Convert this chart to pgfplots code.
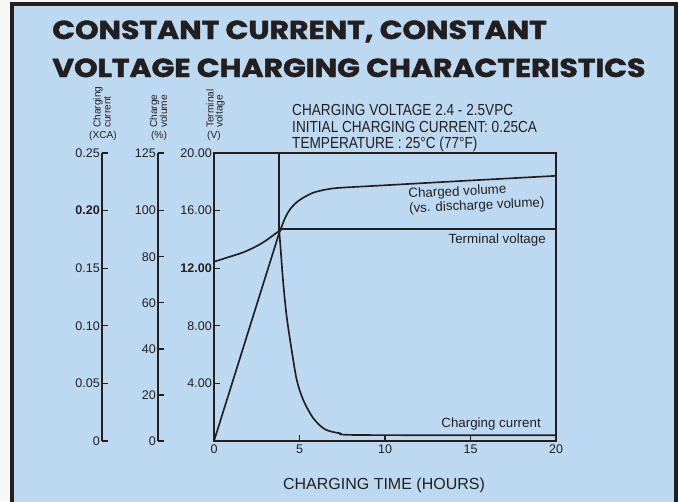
\documentclass[border=0pt]{standalone}
\usepackage{pgfplots}
\pgfplotsset{compat=1.18}
\usepackage{fontspec}
\setmainfont{Liberation Sans}
\newfontfamily\titlefont{Poppins}[BoldFeatures={FakeBold=1.6}]
\definecolor{bg}{RGB}{189,217,241}
\definecolor{ink}{RGB}{35,31,32}

\pgfplotstableread{
x y
0 12.45
0.64 12.69
1.81 13.15
2.79 13.73
3.57 14.38
3.96 14.70
}\voltA
\pgfplotstableread{
x y
3.96 14.70
20 14.70
}\voltB
\pgfplotstableread{
x y
0 0
3.80 90.0
}\volA
\pgfplotstableread{
x y
3.80 90.0
4.15 96.7
4.44 100.5
4.83 103.6
5.22 105.6
5.81 107.8
6.59 109.2
7.37 109.9
10 111.0
14.8 113.0
20 115.1
}\volB
\pgfplotstableread{
x y
0 0.25
3.82 0.25
3.82 0.181
}\curA
\pgfplotstableread{
x y
3.82 0.181
3.90 0.166
4.05 0.137
4.25 0.108
4.54 0.079
4.84 0.053
5.22 0.0356
5.81 0.0197
6.49 0.0102
7.37 0.0067
8.54 0.0052
20 0.0050
}\curB

\pgfplotsset{
  scalebase/.style={
    scale only axis, anchor=south west, height=216pt,
    tick align=inside, major tick length=4.5pt,
    axis line style={ink, line width=1pt},
    every tick/.style={ink, line width=1pt},
    tick label style={ink, font=\fontsize{9.4}{10}\selectfont},
    /pgf/number format/assume math mode=true,
    yticklabel style={inner sep=1.5pt},
  },
  overlay/.style={
    scale only axis, anchor=south west, at={(160.5pt,-330.75pt)},
    width=256.5pt, height=216pt, xmin=0, xmax=20, hide axis, clip=false,
  },
  curve/.style={ink, line width=1.25pt, no marks},
}

\begin{document}
\begin{tikzpicture}
\begin{scope}[x=0.75pt,y=-0.75pt]
\useasboundingbox (0,0) rectangle (678,501);
\fill[gray!6] (0,0) rectangle (678,501);
\fill[bg] (12,4) rectangle (676,540);
\draw[ink, line width=2.4pt] (12,540) -- (12,4) -- (676,4) -- (676,540);
\begin{scope}[every node/.style={anchor=base west, inner sep=0, ink, font=\titlefont\bfseries\fontsize{19.5}{20}\selectfont, xscale=1.15}]
\node at (52,39) {CONSTANT CURRENT, CONSTANT};
\node at (52,77) {VOLTAGE CHARGING CHARACTERISTICS};
\end{scope}
\begin{scope}[every node/.style={anchor=base west, inner sep=0, ink, font=\fontsize{12}{13}\selectfont, xscale=0.85}]
\node at (292,115) {CHARGING VOLTAGE 2.4 - 2.5VPC};
\node at (292,132) {INITIAL CHARGING CURRENT: 0.25CA};
\node at (292,148.3) {TEMPERATURE : 25\textdegree C (77\textdegree F)};
\end{scope}
\begin{scope}[every node/.style={inner sep=0, ink, font=\fontsize{7.6}{8}\selectfont}]
\node[rotate=90, anchor=west] at (98,128) {Charging};
\node[rotate=90, anchor=west] at (107.5,128) {current};
\node[anchor=base] at (103,138.5) {(XCA)};
\node[rotate=90, anchor=west] at (154.5,128) {Charge};
\node[rotate=90, anchor=west] at (163.5,128) {volume};
\node[anchor=base] at (159,138.5) {(\%)};
\node[rotate=90, anchor=west] at (210,128) {Terminal};
\node[rotate=90, anchor=west] at (220,128) {voltage};
\node[anchor=base] at (214,138.5) {(V)};
\end{scope}
\begin{scope}[every node/.style={inner sep=0, ink, font=\fontsize{10}{11}\selectfont}]
\node[anchor=north west, rotate=2.5, align=left] at (408,188) {Charged volume\\(vs. discharge volume)};
\node[anchor=base east] at (546,243.3) {Terminal voltage};
\node[anchor=base east] at (541,427) {Charging current};
\end{scope}
\node[anchor=base, inner sep=0, ink, font=\fontsize{12}{13}\selectfont] at (384,489) {CHARGING TIME (HOURS)};
\end{scope}

% charging current scale
\begin{axis}[scalebase, at={(76.5pt,-330.75pt)}, width=10pt,
  xmin=0, xmax=1, ymin=0, ymax=0.25, hide x axis, axis y line*=left,
  ytick={0,0.05,0.1,0.15,0.2,0.25},
  yticklabels={0,0.05,0.10,0.15,\textbf{0.20},0.25}]
\end{axis}
% charge volume scale
\begin{axis}[scalebase, at={(118.5pt,-330.75pt)}, width=10pt,
  xmin=0, xmax=1, ymin=0, ymax=125, hide x axis, axis y line*=left,
  ytick={0,20,40,60,80,100,125},
  yticklabels={0,20,40,60,80,100,125}]
\end{axis}
% main axis: terminal voltage
\begin{axis}[scalebase, at={(160.5pt,-330.75pt)}, width=256.5pt,
  xmin=0, xmax=20, ymin=0, ymax=20, clip=false,
  xtick={0,5,10,15,20}, xticklabels={0,5,10,15,20},
  ytick={4,8,12,16,20},
  yticklabels={4.00,8.00,\textbf{12.00},16.00,20.00},
  xticklabel style={yshift=1pt},
  ytick pos=left, xtick pos=bottom]
\addplot[curve, smooth] table {\voltA};
\addplot[curve] table {\voltB};
\end{axis}
% charge volume curve
\begin{axis}[overlay, ymin=0, ymax=125]
\addplot[curve] table {\volA};
\addplot[curve, smooth] table {\volB};
\end{axis}
% charging current curve
\begin{axis}[overlay, ymin=0, ymax=0.25]
\addplot[curve] table {\curA};
\addplot[curve, smooth] table {\curB};
\end{axis}
\end{tikzpicture}
\end{document}
